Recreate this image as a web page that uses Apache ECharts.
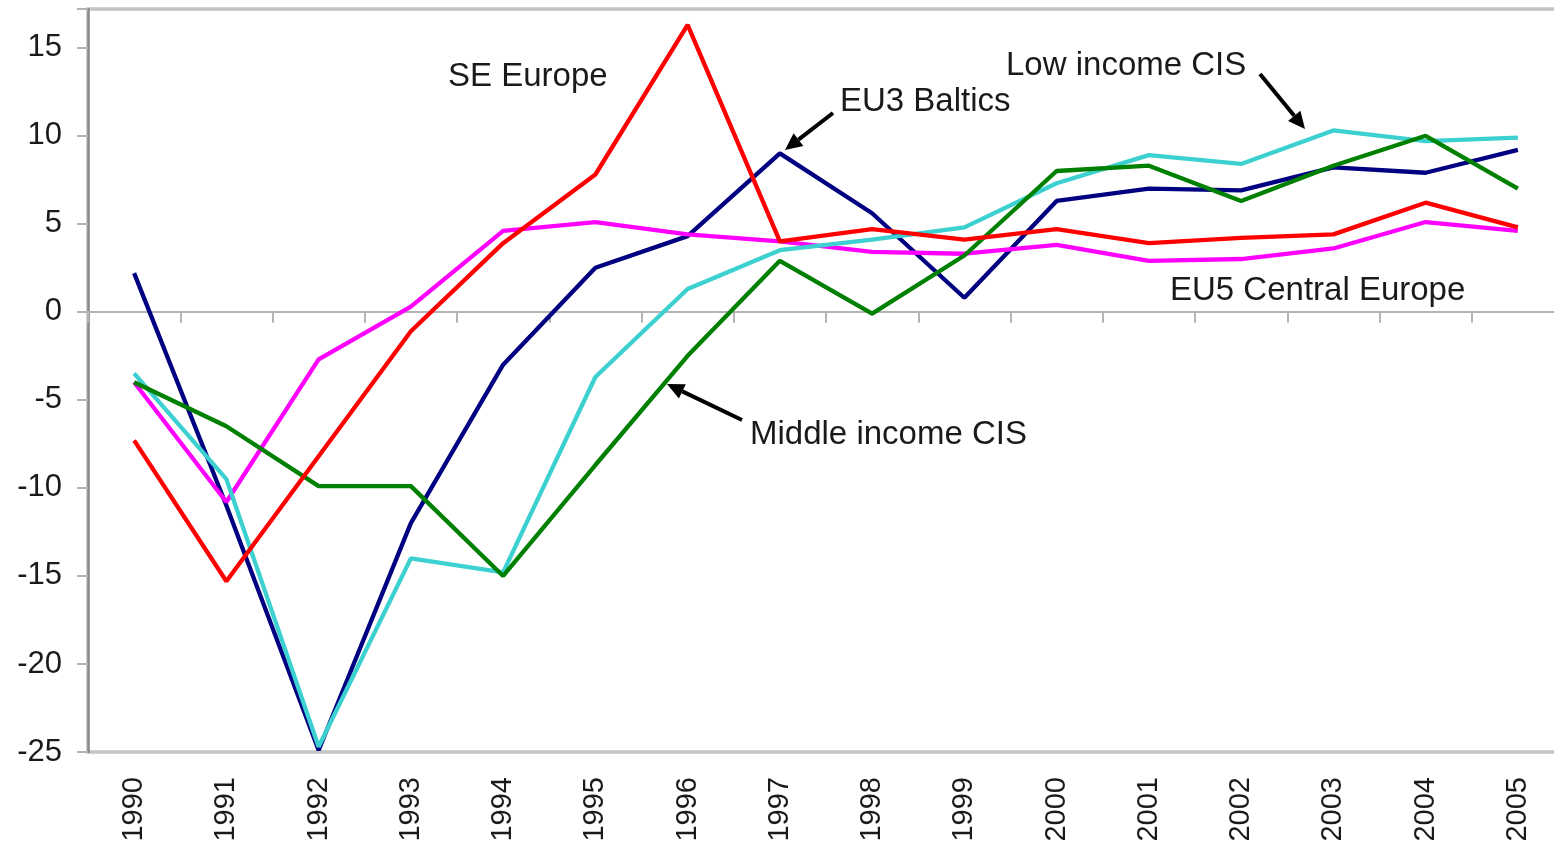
<!DOCTYPE html>
<html>
<head>
<meta charset="utf-8">
<script src="https://cdn.jsdelivr.net/npm/echarts@6/dist/echarts.min.js"></script>
<style>
html,body{margin:0;padding:0;background:#fff;overflow:hidden;}
#chart{width:1554px;height:854px;}
</style>
</head>
<body>
<div id="chart"></div>
<script>
const years = ['1990','1991','1992','1993','1994','1995','1996','1997','1998','1999','2000','2001','2002','2003','2004','2005'];
const eu3Baltics = [2.2,-11,-24.9,-12,-3.0,2.5,4.3,9.0,5.6,0.8,6.3,7.0,6.9,8.2,7.9,9.2];
const seEurope = [-7.3,-15.3,-8.2,-1.1,3.9,7.8,16.3,4.0,4.7,4.1,4.7,3.9,4.2,4.4,6.2,4.8];
const eu5Central = [-4.0,-10.8,-2.7,0.3,4.6,5.1,4.4,4.0,3.4,3.3,3.8,2.9,3.0,3.6,5.1,4.6];
const lowIncomeCIS = [-3.5,-9.5,-24.7,-14.0,-14.8,-3.7,1.3,3.5,4.1,4.8,7.3,8.9,8.4,10.3,9.7,9.9];
const middleIncomeCIS = [-4.0,-6.5,-9.9,-9.9,-15.0,-8.7,-2.5,2.9,-0.1,3.2,8.0,8.3,6.3,8.3,10.0,7.0];
const yTicks = [-25,-20,-15,-10,-5,0,5,10,15];

const FONT = 'Arial, "Liberation Sans", sans-serif';

function arrow(x1, y1, x2, y2) {
  const a = Math.atan2(y2 - y1, x2 - x1);
  const L = 17, W = 8;
  const bx = x2 - L * Math.cos(a), by = y2 - L * Math.sin(a);
  const px = -Math.sin(a), py = Math.cos(a);
  return [
    {type:'line', shape:{x1:x1, y1:y1, x2:bx, y2:by}, style:{stroke:'#000', lineWidth:4}, z:100},
    {type:'polygon', shape:{points:[[x2,y2],[bx+W*px,by+W*py],[bx-W*px,by-W*py]]}, style:{fill:'#000'}, z:100}
  ];
}
function label(text, x, y) {
  return {type:'text', left:x, top:y - 15, z:100,
    style:{text:text, font:'33px ' + FONT, fill:'#1a1a1a'}};
}

const chart = echarts.init(document.getElementById('chart'));
const mk = (name, data, color) => ({
  name: name, type:'line', data:data, xAxisIndex:1, symbol:'none',
  lineStyle:{color:color, width:4.3}, itemStyle:{color:color}, z:5
});
chart.setOption({
  animation:false,
  grid:{left:88, width:1476, top:9, bottom:102, show:true, borderColor:'#c4c4c4', borderWidth:3.5,
        containLabel:false, outerBoundsMode:'none'},
  xAxis:[
    {type:'category', data:years, position:'top', boundaryGap:true,
     axisLine:{show:true, onZero:true, lineStyle:{color:'#b4b4b4', width:2}},
     axisTick:{show:true, inside:true, length:11, lineStyle:{color:'#b4b4b4', width:2}},
     axisLabel:{show:false}, splitLine:{show:false}},
    {type:'category', data:years, position:'bottom', boundaryGap:true,
     axisLine:{show:false, onZero:false}, axisTick:{show:false},
     axisLabel:{rotate:90, fontSize:29, fontFamily:FONT, color:'#1a1a1a', margin:25},
     splitLine:{show:false}}
  ],
  yAxis:{type:'value', min:-25, max:17.2, interval:5,
    axisLine:{show:true, lineStyle:{color:'#8c8c8c', width:2.5}},
    axisTick:{show:true, length:11, lineStyle:{color:'#b4b4b4', width:2}},
    axisLabel:{fontSize:31, fontFamily:FONT, color:'#1a1a1a', margin:26,
      formatter:v => yTicks.indexOf(v) >= 0 ? String(v) : ''},
    splitLine:{show:false}},
  series:[
    mk('EU3 Baltics', eu3Baltics, '#000080'),
    mk('EU5 Central Europe', eu5Central, '#ff00ff'),
    mk('Low income CIS', lowIncomeCIS, '#3cd0d0'),
    mk('Middle income CIS', middleIncomeCIS, '#008000'),
    mk('SE Europe', seEurope, '#ff0000')
  ],
  graphic:[
    label('SE Europe', 448, 75),
    label('EU3 Baltics', 840, 100),
    label('Low income CIS', 1006, 64),
    label('EU5 Central Europe', 1170, 289),
    label('Middle income CIS', 750, 433),
    ...arrow(833, 113, 785, 150),
    ...arrow(1260, 74, 1305, 129),
    ...arrow(742, 420, 667, 384)
  ]
});
</script>
</body>
</html>
